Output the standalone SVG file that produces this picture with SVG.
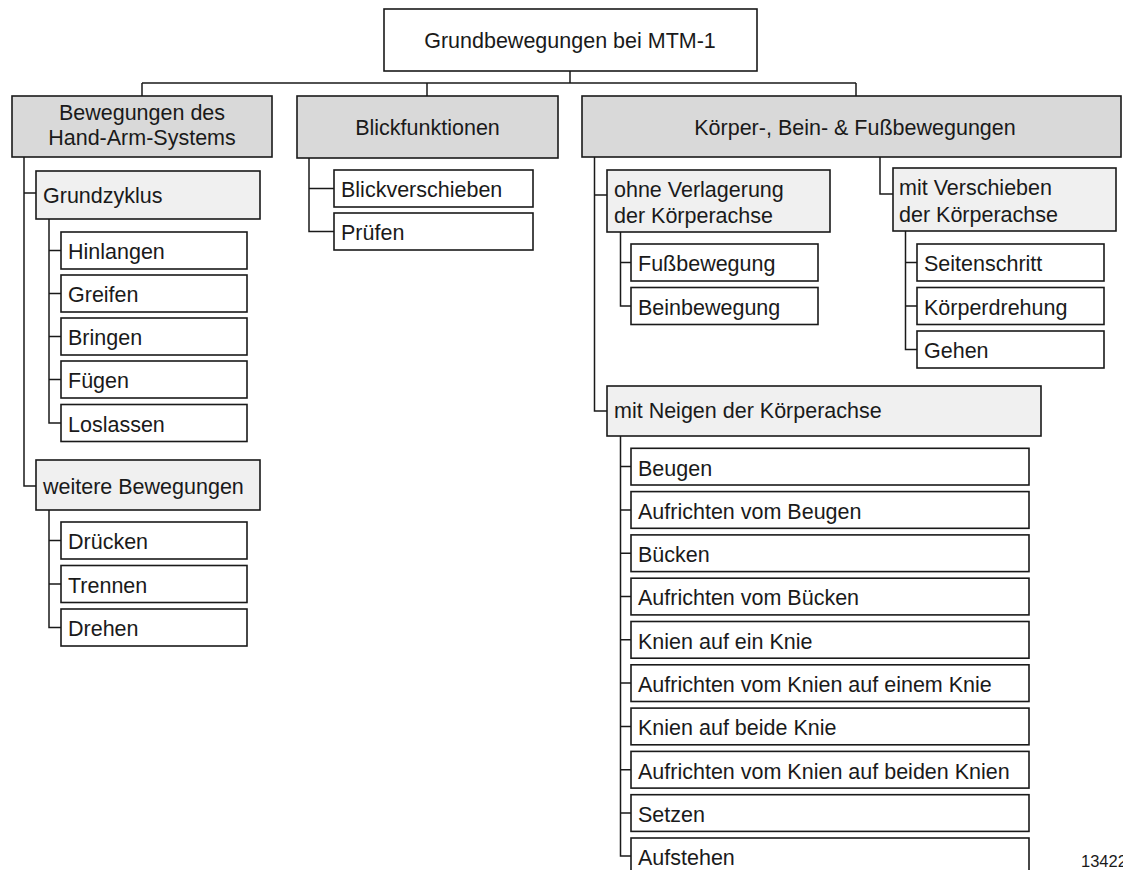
<svg xmlns="http://www.w3.org/2000/svg" width="1123" height="870" viewBox="0 0 1123 870">
  <style>
    text { font-family: "Liberation Sans", Arial, Helvetica, sans-serif; font-size: 21.5px; fill: #1a1a1a; }
    .c { text-anchor: middle; }
    .node rect { stroke: #1a1a1a; stroke-width: 1.6; }
    .top { fill: #ffffff; }
    .cat { fill: #d9d9d9; }
    .grp { fill: #f0f0f0; }
    .leaf { fill: #ffffff; }
    .wire { fill: none; stroke: #1a1a1a; stroke-width: 1.5; }
    .ref { font-size: 16.5px; }
  </style>
  <rect x="0" y="0" width="1123" height="870" fill="#ffffff"/>

  <!-- tree connectors -->
  <g id="connectors" class="wire">
    <path d="M570 71V83M142 83H856M142 83V96M427 83V96M856 83V96"/>
    <!-- hand-arm branch -->
    <path d="M24 157V486H36M24 193H36"/>
    <path d="M49 219V423H61M49 250.5H61M49 293.5H61M49 336.5H61M49 379.5H61"/>
    <path d="M49 510V627.5H61M49 540.5H61M49 584H61"/>
    <!-- eye functions -->
    <path d="M309 158V231.5H334M309 188.5H334"/>
    <!-- body, leg and foot -->
    <path d="M594.5 157V411H607M594.5 195H607"/>
    <path d="M880 157V194H893"/>
    <path d="M620.5 232V306H631M620.5 262.5H631"/>
    <path d="M905.5 231V349.5H917M905.5 262.5H917M905.5 306H917"/>
    <path d="M620.5 436V856H631M620.5 466.6H631M620.5 509.9H631M620.5 553.2H631M620.5 596.5H631M620.5 639.8H631M620.5 683.1H631M620.5 726.4H631M620.5 769.7H631M620.5 813H631"/>
  </g>

  <g id="root" class="node">
    <rect class="top" x="384" y="9" width="373" height="62"/>
    <text class="c" x="570" y="48">Grundbewegungen bei MTM-1</text>
  </g>

  <!-- Hand-Arm-System -->
  <g id="hand-arm" class="node">
    <rect class="cat" x="12" y="96" width="260" height="61"/>
    <text class="c" x="142" y="119.5">Bewegungen des</text>
    <text class="c" x="142" y="145">Hand-Arm-Systems</text>
  </g>
  <g id="grundzyklus" class="node">
    <rect class="grp" x="36" y="171" width="224" height="48"/>
    <text x="43" y="203">Grundzyklus</text>
  </g>
  <g id="hinlangen" class="node"><rect class="leaf" x="61" y="232" width="186" height="37"/><text x="68" y="259.3">Hinlangen</text></g>
  <g id="greifen" class="node"><rect class="leaf" x="61" y="275" width="186" height="37"/><text x="68" y="302.3">Greifen</text></g>
  <g id="bringen" class="node"><rect class="leaf" x="61" y="318" width="186" height="37"/><text x="68" y="345.3">Bringen</text></g>
  <g id="fuegen" class="node"><rect class="leaf" x="61" y="361" width="186" height="37"/><text x="68" y="388.3">Fügen</text></g>
  <g id="loslassen" class="node"><rect class="leaf" x="61" y="404.5" width="186" height="37"/><text x="68" y="431.8">Loslassen</text></g>
  <g id="weitere" class="node">
    <rect class="grp" x="36" y="460" width="224" height="50"/>
    <text x="43" y="494">weitere Bewegungen</text>
  </g>
  <g id="druecken" class="node"><rect class="leaf" x="61" y="522" width="186" height="37"/><text x="68" y="549.3">Drücken</text></g>
  <g id="trennen" class="node"><rect class="leaf" x="61" y="565.5" width="186" height="37"/><text x="68" y="592.8">Trennen</text></g>
  <g id="drehen" class="node"><rect class="leaf" x="61" y="609" width="186" height="37"/><text x="68" y="636.3">Drehen</text></g>

  <!-- Blickfunktionen -->
  <g id="blick" class="node">
    <rect class="cat" x="297" y="96" width="261" height="62"/>
    <text class="c" x="427.5" y="135">Blickfunktionen</text>
  </g>
  <g id="blickverschieben" class="node"><rect class="leaf" x="334" y="170" width="199" height="37"/><text x="341" y="197.3">Blickverschieben</text></g>
  <g id="pruefen" class="node"><rect class="leaf" x="334" y="213" width="199" height="37"/><text x="341" y="240.3">Prüfen</text></g>

  <!-- Körper-, Bein- & Fußbewegungen -->
  <g id="koerper" class="node">
    <rect class="cat" x="582" y="96" width="539" height="61"/>
    <text class="c" x="855" y="135">Körper-, Bein- &amp; Fußbewegungen</text>
  </g>
  <g id="ohne-verlagerung" class="node">
    <rect class="grp" x="607" y="170" width="223" height="62"/>
    <text x="614" y="197">ohne Verlagerung</text>
    <text x="614" y="223">der Körperachse</text>
  </g>
  <g id="fussbewegung" class="node"><rect class="leaf" x="631" y="244" width="187" height="37"/><text x="638" y="271.3">Fußbewegung</text></g>
  <g id="beinbewegung" class="node"><rect class="leaf" x="631" y="287.5" width="187" height="37"/><text x="638" y="314.8">Beinbewegung</text></g>
  <g id="mit-verschieben" class="node">
    <rect class="grp" x="893" y="168" width="223" height="63"/>
    <text x="899" y="195">mit Verschieben</text>
    <text x="899" y="222">der Körperachse</text>
  </g>
  <g id="seitenschritt" class="node"><rect class="leaf" x="917" y="244" width="187" height="37"/><text x="924" y="271.3">Seitenschritt</text></g>
  <g id="koerperdrehung" class="node"><rect class="leaf" x="917" y="287.5" width="187" height="37"/><text x="924" y="314.8">Körperdrehung</text></g>
  <g id="gehen" class="node"><rect class="leaf" x="917" y="331" width="187" height="37"/><text x="924" y="358.3">Gehen</text></g>
  <g id="mit-neigen" class="node">
    <rect class="grp" x="607" y="386" width="434" height="50"/>
    <text x="614" y="418">mit Neigen der Körperachse</text>
  </g>
  <g id="beugen" class="node"><rect class="leaf" x="631" y="448.3" width="398" height="36.7"/><text x="638" y="475.5">Beugen</text></g>
  <g id="aufrichten-beugen" class="node"><rect class="leaf" x="631" y="491.6" width="398" height="36.7"/><text x="638" y="518.8">Aufrichten vom Beugen</text></g>
  <g id="buecken" class="node"><rect class="leaf" x="631" y="534.9" width="398" height="36.7"/><text x="638" y="562.1">Bücken</text></g>
  <g id="aufrichten-buecken" class="node"><rect class="leaf" x="631" y="578.2" width="398" height="36.7"/><text x="638" y="605.4">Aufrichten vom Bücken</text></g>
  <g id="knien-ein" class="node"><rect class="leaf" x="631" y="621.5" width="398" height="36.7"/><text x="638" y="648.7">Knien auf ein Knie</text></g>
  <g id="aufrichten-knien-ein" class="node"><rect class="leaf" x="631" y="664.8" width="398" height="36.7"/><text x="638" y="692">Aufrichten vom Knien auf einem Knie</text></g>
  <g id="knien-beide" class="node"><rect class="leaf" x="631" y="708.1" width="398" height="36.7"/><text x="638" y="735.3">Knien auf beide Knie</text></g>
  <g id="aufrichten-knien-beide" class="node"><rect class="leaf" x="631" y="751.4" width="398" height="36.7"/><text x="638" y="778.6">Aufrichten vom Knien auf beiden Knien</text></g>
  <g id="setzen" class="node"><rect class="leaf" x="631" y="794.7" width="398" height="36.7"/><text x="638" y="821.9">Setzen</text></g>
  <g id="aufstehen" class="node"><rect class="leaf" x="631" y="838" width="398" height="40"/><text x="638" y="865.2">Aufstehen</text></g>

  <text class="ref" x="1081" y="867">13422</text>
</svg>
